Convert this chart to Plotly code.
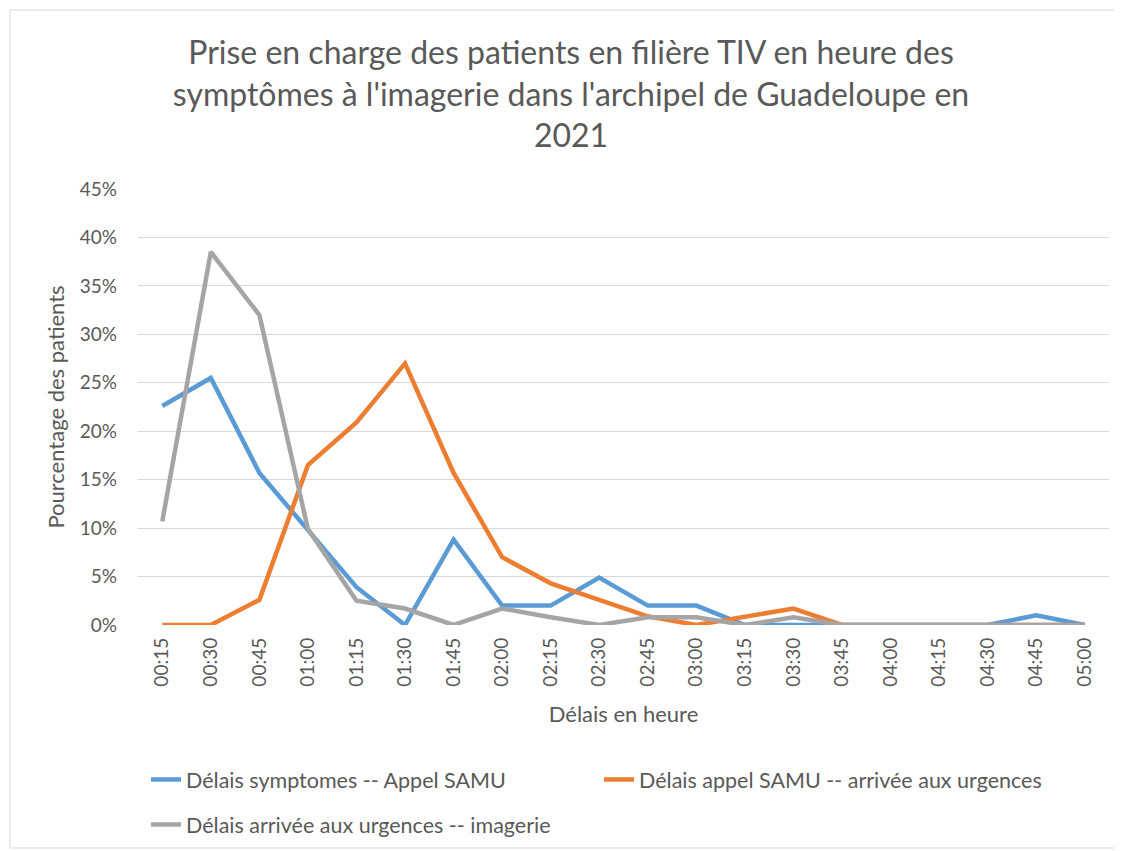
import plotly.graph_objects as go

categories = ["00:15", "00:30", "00:45", "01:00", "01:15", "01:30", "01:45", "02:00",
              "02:15", "02:30", "02:45", "03:00", "03:15", "03:30", "03:45", "04:00",
              "04:15", "04:30", "04:45", "05:00"]

symptomes_appel = [0.226, 0.255, 0.157, 0.098, 0.039, 0.0, 0.088, 0.020,
                   0.020, 0.049, 0.020, 0.020, 0.0, 0.0, 0.0, 0.0,
                   0.0, 0.0, 0.010, 0.0]
appel_urgences = [0.0, 0.0, 0.026, 0.165, 0.209, 0.270, 0.157, 0.070,
                  0.043, 0.026, 0.009, 0.0, 0.009, 0.017, 0.0, 0.0,
                  0.0, 0.0, 0.0, 0.0]
urgences_imagerie = [0.107, 0.385, 0.320, 0.099, 0.025, 0.017, 0.0, 0.017,
                     0.008, 0.0, 0.008, 0.008, 0.0, 0.008, 0.0, 0.0,
                     0.0, 0.0, 0.0, 0.0]

series = [
    ("Délais symptomes -- Appel SAMU", symptomes_appel, "#5B9BD5", "legend"),
    ("Délais appel SAMU -- arrivée aux urgences", appel_urgences, "#ED7D31", "legend"),
    ("Délais arrivée aux urgences -- imagerie", urgences_imagerie, "#A5A5A5", "legend2"),
]

FONT = "Lato"
TXT = "#595959"

fig = go.Figure()
for name, vals, col, lg in series:
    fig.add_trace(go.Scatter(x=categories, y=vals, mode="lines", name=name,
                             line=dict(color=col, width=4.5, shape="linear"),
                             legend=lg, hoverinfo="x+y+name"))

# the page body has an 8px margin; figure is sized to fit the window
OFF = 8
W, H = 1122 - OFF, 851 - OFF
L, R, T, B = 138 - OFF, 13, 189 - OFF, 226
pw, ph = W - L - R, H - T - B


def px(sx):
    return (sx - OFF - L) / pw


def py(sy):
    return (H - B + OFF - sy) / ph


def cy(sy):
    return 1 - (sy - OFF) / H


legend_common = dict(orientation="h", xanchor="left", yanchor="top",
                     entrywidth=408, entrywidthmode="pixels",
                     font=dict(size=21.5, color=TXT, family=FONT),
                     traceorder="normal", itemwidth=30, bgcolor="rgba(0,0,0,0)")

fig.update_layout(
    width=W, height=H,
    margin=dict(l=L, r=R, t=T, b=B, autoexpand=False),
    paper_bgcolor="white", plot_bgcolor="white",
    font=dict(family=FONT, color=TXT, size=16),
    title=dict(text="Prise en charge des patients en filière TIV en heure des<br>"
                    "symptômes à l'imagerie dans l'archipel de Guadeloupe en<br>2021",
               x=(571 - OFF) / W, xref="container", xanchor="center",
               y=cy(64), yref="container", yanchor="top",
               font=dict(family=FONT, size=32, color=TXT)),
    xaxis=dict(type="category", range=[-0.5, len(categories) - 0.5],
               tickangle=-90, tickfont=dict(size=19, color=TXT),
               showgrid=False, showline=False, ticks="", zeroline=False,
               ticklabelstandoff=8,
               title=dict(text="Délais en heure", font=dict(size=22, color=TXT), standoff=20)),
    yaxis=dict(range=[0, 0.45], dtick=0.05, tickformat=".0%",
               tickfont=dict(size=19, color=TXT),
               showgrid=True, gridcolor="#d9d9d9", gridwidth=1.3,
               zeroline=False, showline=False, ticks="", ticklabelstandoff=20,
               title=dict(text="Pourcentage des patients", font=dict(size=22, color=TXT), standoff=9)),
    legend=dict(x=px(146), y=py(759), **legend_common),
    legend2=dict(x=px(146), y=py(804), **legend_common),
    showlegend=True,
    shapes=[dict(type="rect", xref="paper", yref="paper",
                 x0=px(10), x1=px(1118), y0=py(848), y1=py(10),
                 line=dict(color="#d9d9d9", width=1), fillcolor="rgba(0,0,0,0)",
                 layer="below")],
)

fig.write_html("out.html")
